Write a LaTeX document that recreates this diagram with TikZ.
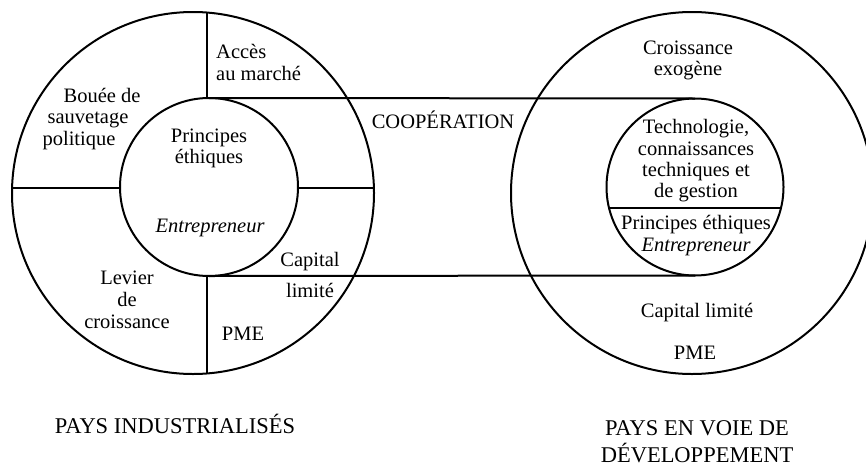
\documentclass[tikz,border=0pt]{standalone}
\usepackage{fontspec}
\setmainfont{Liberation Serif}
\begin{document}
\begin{tikzpicture}[x=1pt,y=-1pt,
  ln/.style={line width=2pt,black},
  txt/.style={anchor=base,inner sep=0pt,font=\fontsize{20.5}{22}\selectfont},
  big/.style={anchor=base,inner sep=0pt,font=\fontsize{22.5}{27}\selectfont}]
\useasboundingbox (0,0) rectangle (866,466);
\clip (0,0) rectangle (866,466);
% circles
\coordinate (LO) at (193,193);
\coordinate (LI) at (209,187);
\coordinate (RO) at (692,193);
\coordinate (RI) at (695,187);
\draw[ln] (LO) circle (181pt);
\draw[ln] (LI) circle (89pt);
\draw[ln] (RO) circle (181pt);
\draw[ln] (RI) circle (88.5pt);
% dividers
\coordinate (hl1) at (12,188);
\coordinate (hl2) at (120,188);
\coordinate (hr1) at (298,188);
\coordinate (hr2) at (374,188);
\draw[ln] (hl1) -- (hl2);
\draw[ln] (hr1) -- (hr2);
\coordinate (vt1) at (207,12.5);
\coordinate (vt2) at (207,98);
\coordinate (vb1) at (207,276);
\coordinate (vb2) at (207,373.5);
\draw[ln] (vt1) -- (vt2);
\draw[ln] (vb1) -- (vb2);
% band
\coordinate (bt1) at (209,98);
\coordinate (bt2) at (695,98.5);
\coordinate (bb1) at (209,276);
\coordinate (bb2) at (695,275.5);
\draw[ln] (bt1) -- (bt2);
\draw[ln] (bb1) -- (bb2);
% right inner divider
\coordinate (d1) at (609,208);
\coordinate (d2) at (781,208);
\draw[ln] (d1) -- (d2);
% texts left
\node[txt,anchor=base west] (acc1) at (216,58) {Accès};
\node[txt,anchor=base west] (acc2) at (216,80) {au marché};
\node[txt] (bou1) at (102,102) {Bouée de};
\node[txt] (bou2) at (88,123.5) {sauvetage};
\node[txt] (bou3) at (79,145) {politique};
\node[txt] (pr1) at (209,142) {Principes};
\node[txt] (pr2) at (209,163.5) {éthiques};
\node[txt] (ent) at (210,232) {\itshape Entrepreneur};
\node[txt] (cap1) at (310,266) {Capital};
\node[txt] (cap2) at (310,297) {limité};
\node[txt] (lev1) at (127,284) {Levier};
\node[txt] (lev2) at (127,306) {de};
\node[txt] (lev3) at (127,328) {croissance};
\node[txt] (pme1) at (243,340) {PME};
\node[txt] (coop) at (443,128) {COOPÉRATION};
% texts right
\node[txt] (cr1) at (688,54) {Croissance};
\node[txt] (cr2) at (688,75.5) {exogène};
\node[txt] (te1) at (696,133) {Technologie,};
\node[txt] (te2) at (696,155) {connaissances};
\node[txt] (te3) at (696,176.5) {techniques et};
\node[txt] (te4) at (696,197.5) {de gestion};
\node[txt] (rp) at (696,229) {Principes éthiques};
\node[txt] (re) at (696,251.5) {\itshape Entrepreneur};
\node[txt] (rc) at (697,317) {Capital limité};
\node[txt] (rpme) at (695,359) {PME};
% bottom labels
\node[big] (pi) at (175,433) {PAYS INDUSTRIALISÉS};
\node[big] (pv1) at (697,435) {PAYS EN VOIE DE};
\node[big] (pv2) at (697,462) {DÉVELOPPEMENT};
\end{tikzpicture}
\end{document}
